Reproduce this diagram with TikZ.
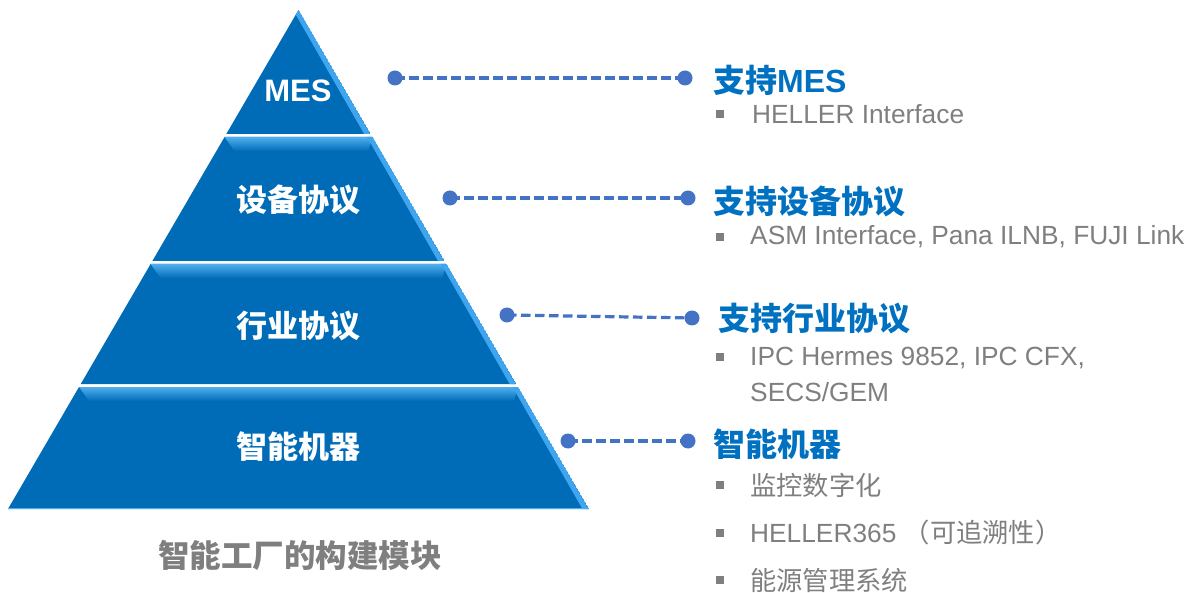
\documentclass[tikz,border=0pt]{standalone}
\usepackage{fontspec}
\setmainfont{Liberation Sans}
\newfontfamily\cjk{Noto Sans CJK SC}
\definecolor{pyr}{RGB}{0,108,183}
\definecolor{pyrlight}{RGB}{80,175,238}
\definecolor{pyredge}{RGB}{62,165,238}
\definecolor{conn}{RGB}{68,114,196}
\definecolor{head}{RGB}{0,112,192}
\definecolor{txt}{RGB}{127,127,127}
\begin{document}
\begin{tikzpicture}[x=1pt,y=-1pt,
  tierlabel/.style={text=white,inner sep=0pt,font=\fontsize{31}{36}\selectfont\bfseries},
  caption/.style={text=txt,inner sep=0pt,font=\fontsize{31.5}{36}\selectfont\bfseries\cjk},
  heading/.style={text=head,inner sep=0pt,anchor=west,font=\fontsize{32}{36}\selectfont\bfseries},
  item/.style={text=txt,inner sep=0pt,anchor=west,align=left,font=\fontsize{26.3}{36}\selectfont},
  sq/.style={fill=txt,minimum size=8pt,inner sep=0pt,draw=none},
  dot/.style={circle,fill=conn,minimum size=15pt,inner sep=0pt},
  conline/.style={conn,line width=3.2pt,dash pattern=on 9.5pt off 4.5pt}]
\useasboundingbox (0,0) rectangle (1191,593);
% pyramid tiers
\foreach \t/\b/\s in {10/134/0,137/261/1,264/384/1,387/509/1}{
  \pgfmathsetmacro\hwt{0.5822*(\t-10)}
  \pgfmathsetmacro\hwb{0.5822*(\b-10)}
  \begin{scope}
    \clip (298.5-\hwt,\t) -- (298.5+\hwt,\t) -- (298.5+\hwb,\b) -- (298.5-\hwb,\b) -- cycle;
    \fill[pyr] (298.5-\hwt,\t) -- (298.5+\hwt,\t) -- (298.5+\hwb,\b) -- (298.5-\hwb,\b) -- cycle;
    \ifnum\s=1
      \shade[top color=pyrlight,bottom color=pyr] (298.5-\hwt,\t) -- (298.5+\hwt,\t) -- (298.5+\hwt-4,\t+14) -- (298.5-\hwt+10,\t+14) -- cycle;
    \fi
    \fill[pyredge] (298.5+\hwt,\t-1) -- (298.5+\hwb,\b+1) -- (298.5+\hwb-6,\b+1) -- (298.5+\hwt-6,\t-1) -- cycle;
  \end{scope}
}
\draw[pyrlight,line width=1pt] (8,508.5) -- (589,508.5);
% tier labels
\node[tierlabel] (tmes) at (298,91) {MES};
\node[tierlabel] (tdev) at (298,200) {\cjk 设备协议};
\node[tierlabel] (tind) at (298,326) {\cjk 行业协议};
\node[tierlabel] (tmach) at (298,447) {\cjk 智能机器};
\node[caption] (cap) at (300,555) {智能工厂的构建模块};
% connectors
\node[dot] (a1) at (395,78) {};
\node[dot] (b1) at (685,78) {};
\node[dot] (a2) at (450,198) {};
\node[dot] (b2) at (688,198) {};
\node[dot] (a3) at (507,315) {};
\node[dot] (b3) at (692,318) {};
\node[dot] (a4) at (568,441) {};
\node[dot] (b4) at (688,441) {};
\draw[conline] (a1.center) -- (b1.center);
\draw[conline] (a2.center) -- (b2.center);
\draw[conline] (a3.center) -- (b3.center);
\draw[conline] (a4.center) -- (b4.center);
% headings
\node[heading] (h1) at (713,80) {{\cjk 支持}MES};
\node[heading] (h2) at (713,201) {\cjk 支持设备协议};
\node[heading] (h3) at (718,319) {\cjk 支持行业协议};
\node[heading] (h4) at (713,444) {\cjk 智能机器};
% items
\node[sq] (s1) at (720,114) {};
\node[item] (i1) at (752,114) {HELLER Interface};
\node[sq] (s2) at (720,237) {};
\node[item] (i2) at (750,237) {ASM Interface, Pana ILNB, FUJI Link};
\node[sq] (s3) at (720,357) {};
\node[item,anchor=north west] (i3) at (750,347) {IPC Hermes 9852, IPC CFX,\\SECS/GEM};
\node[sq] (s4) at (720,485) {};
\node[item] (i4) at (750,485) {\cjk 监控数字化};
\node[sq] (s5) at (720,533) {};
\node[item] (i5) at (750,533) {HELLER365 {\cjk （可追溯性）}};
\node[sq] (s6) at (720,580) {};
\node[item] (i6) at (750,580) {\cjk 能源管理系统};
\end{tikzpicture}
\end{document}
